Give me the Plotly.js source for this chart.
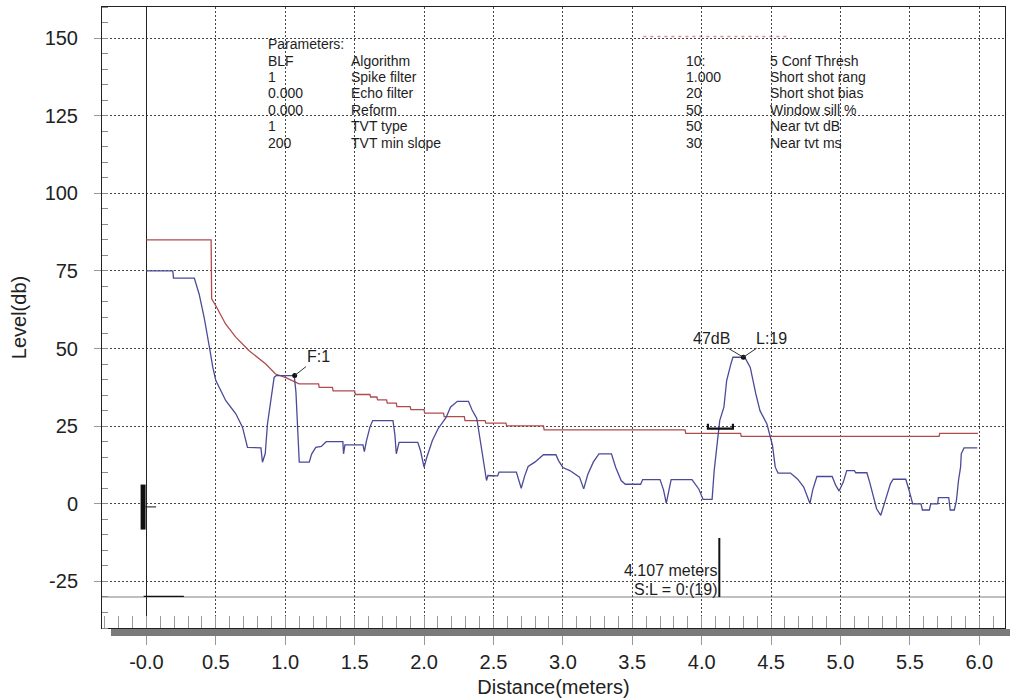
<!DOCTYPE html>
<html>
<head>
<meta charset="utf-8">
<script src="https://cdn.plot.ly/plotly-3.0.1.min.js"></script>
<style>html,body{margin:0;padding:0;background:#fff;}#chart{width:1030px;height:699px;}</style>
</head>
<body>
<div id="chart"></div>
<script>
// ---- Echo profile (blue) ----
const distX = [0,0.19,0.195,0.345,0.38,0.416,0.454,0.478,0.50,0.572,0.644,0.692,0.728,0.825,0.836,0.856,0.872,0.897,0.92,0.935,1.065,1.077,1.101,1.173,1.19,1.22,1.26,1.295,1.415,1.42,1.43,1.56,1.57,1.585,1.61,1.63,1.776,1.79,1.80,1.82,1.955,1.975,2.0,2.02,2.06,2.10,2.16,2.19,2.24,2.32,2.345,2.38,2.40,2.42,2.44,2.45,2.46,2.53,2.54,2.665,2.70,2.725,2.75,2.80,2.86,2.95,2.968,3.0,3.05,3.12,3.15,3.18,3.22,3.26,3.35,3.38,3.42,3.45,3.56,3.575,3.70,3.725,3.745,3.765,3.78,3.93,3.96,3.98,4.01,4.075,4.09,4.11,4.13,4.16,4.18,4.21,4.225,4.31,4.35,4.39,4.42,4.47,4.51,4.53,4.55,4.64,4.69,4.735,4.765,4.78,4.80,4.83,4.94,4.965,4.99,5.02,5.045,5.10,5.11,5.19,5.21,5.235,5.26,5.29,5.31,5.335,5.36,5.38,5.47,5.49,5.51,5.52,5.58,5.59,5.64,5.65,5.70,5.705,5.78,5.79,5.82,5.835,5.85,5.865,5.87,5.89,5.985];
const levelY = [75,75,72.7,72.7,67.5,60,50.4,44,39.7,33.2,29,24.7,18.2,18,13.4,16.2,25.7,33.2,40.7,41.3,41.3,36,13.4,13.4,16,18.2,18.5,20,20,16.1,19,19,16.8,20.3,24.7,26.8,26.8,22.2,16.1,19.8,19.8,17,11.8,15,20.4,24.1,27.9,31.1,33,33,30.3,27.5,21.4,15,9.1,7.5,9.1,9,10.2,10.2,5.0,9,12,13.5,15.8,15.8,14,11.7,10.7,8.6,4.8,9.5,13.5,16.1,16.1,11.8,7.5,6.3,6.3,7.8,7.8,4.5,0.2,4.5,7.8,7.8,6,4.7,1.4,1.4,10.7,18.8,26.8,31.1,39.7,45,47.2,47.2,43.9,35.4,30,25.7,18.8,11.8,9.9,9.9,8,5.4,1.5,0.1,4.5,8.8,8.8,6,4.1,7,10.7,10.7,10,10,7,3,-1.6,-3.7,-1,3,6.5,7.9,7.9,5,1.5,0,0,-2,-2,0,0,2,2,-2,-2,1,7.5,11.8,16.1,18,18];

// ---- TVT curve (red) ----
const tvtX = [0,0.466,0.47,0.50,0.57,0.645,0.74,0.86,0.93,1.0,1.1,1.24,1.245,1.34,1.345,1.5,1.505,1.61,1.615,1.66,1.665,1.73,1.735,1.80,1.805,1.90,1.905,2.0,2.005,2.14,2.145,2.29,2.295,2.44,2.445,2.59,2.595,2.86,2.865,3.88,3.885,4.28,4.285,5.71,5.715,5.99];
const tvtY = [85,85,66,63.8,57.9,53.6,49.3,45,41.8,40.7,38.6,38.6,37.5,37.5,36.4,36.4,35.2,35.2,34.4,34.4,33.5,33.5,32.4,32.4,31.3,31.3,30.3,30.3,29.2,29.2,28.1,28.1,26.8,26.8,26,26,25.1,25.1,23.8,23.8,22.7,22.7,21.7,21.7,22.7,22.7];

// ---- Echo markers ----
const echoX = [1.068, 4.30];
const echoY = [41.3, 47.2];
const echoLabels = ['F:1', '47dB', 'L:19'];
const windowX = [4.045, 4.045, 4.225, 4.225];
const windowY = [25.8, 24.2, 24.2, 25.8];
const cursorX = [4.127, 4.127];
const cursorY = [-11, -30];
const cursorText = ['4.107 meters', 'S:L = 0:(19)'];
const zeroBarX = [-0.024, -0.024];
const zeroBarY = [6.2, -8.3];
const zeroTickX = [-0.006, 0.07];
const zeroTickY = [-1, -1];
const baseMarkX = [-0.02, 0.27];
const baseMarkY = [-29.8, -29.8];
const baseLevel = -30;
const faintX = [3.58, 4.62];
const faintY = [150.5, 150.5];

// ---- Axes ----
const xTickVals = [0,0.5,1,1.5,2,2.5,3,3.5,4,4.5,5,5.5,6];
const xTickText = ['-0.0','0.5','1.0','1.5','2.0','2.5','3.0','3.5','4.0','4.5','5.0','5.5','6.0'];
const yTickVals = [-25,0,25,50,75,100,125,150];
const yTickText = ['-25','0','25','50','75','100','125','150'];

// ---- Parameter block ----
const paramHeader = 'Parameters:';
const paramValues = ['BLF','1','0.000','0.000','1','200'];
const paramNames = ['Algorithm','Spike filter','Echo filter','Reform','TVT type','TVT min slope'];
const rightValues = ['10:','1.000','20','50','50','30'];
const rightNames = ['5 Conf Thresh','Short shot rang','Short shot bias','Window sill %','Near tvt dB','Near tvt ms'];

const FONT = 'Liberation Sans, Arial, sans-serif';
const L = 102, T = 7, W = 903, H = 621;
const px = v => (v - L) / W;
const py = v => (T + H - v) / H;

const traces = [
  {x: faintX, y: faintY, mode: 'lines', line: {color: 'rgba(180,40,50,0.5)', width: 1.5, dash: '3px,4px'}, hoverinfo: 'skip'},
  {x: tvtX, y: tvtY, mode: 'lines', line: {color: '#b24a4c', width: 1.3}, name: 'TVT'},
  {x: distX, y: levelY, mode: 'lines', line: {color: '#4a4a98', width: 1.3}, name: 'Echo'},
  {x: echoX, y: echoY, mode: 'markers', marker: {color: '#111', size: 5}, hoverinfo: 'skip'},
  {x: windowX, y: windowY, mode: 'lines', line: {color: '#111', width: 2.2}, hoverinfo: 'skip'},
  {x: cursorX, y: cursorY, mode: 'lines', line: {color: '#111', width: 2}, hoverinfo: 'skip'},
  {x: zeroBarX, y: zeroBarY, mode: 'lines', line: {color: '#111', width: 5}, hoverinfo: 'skip'},
  {x: zeroTickX, y: zeroTickY, mode: 'lines', line: {color: '#111', width: 1}, hoverinfo: 'skip'},
  {x: baseMarkX, y: baseMarkY, mode: 'lines', line: {color: '#111', width: 1.2}, hoverinfo: 'skip'}
];

const annotations = [];
const tf = {family: FONT, size: 14, color: '#1e1e1e'};
annotations.push({xref: 'paper', yref: 'paper', x: px(267), y: py(44), xanchor: 'left', yanchor: 'middle', text: paramHeader, showarrow: false, font: tf, borderpad: 0});
const rowsY = [60.5, 77, 93.5, 110, 126.5, 143];
paramValues.forEach((v, i) => {
  annotations.push({xref: 'paper', yref: 'paper', x: px(267), y: py(rowsY[i]), xanchor: 'left', yanchor: 'middle', text: v, showarrow: false, font: tf, borderpad: 0});
  annotations.push({xref: 'paper', yref: 'paper', x: px(350), y: py(rowsY[i]), xanchor: 'left', yanchor: 'middle', text: paramNames[i], showarrow: false, font: tf, borderpad: 0});
  annotations.push({xref: 'paper', yref: 'paper', x: px(685), y: py(rowsY[i]), xanchor: 'left', yanchor: 'middle', text: rightValues[i], showarrow: false, font: tf, borderpad: 0});
  annotations.push({xref: 'paper', yref: 'paper', x: px(769), y: py(rowsY[i]), xanchor: 'left', yanchor: 'middle', text: rightNames[i], showarrow: false, font: tf, borderpad: 0});
});
const af = {family: FONT, size: 16, color: '#1e1e1e'};
annotations.push({x: echoX[0], y: echoY[0], text: echoLabels[0], showarrow: true, arrowhead: 0, arrowwidth: 1, arrowcolor: '#333', ax: 24, ay: -19, font: af});
annotations.push({x: echoX[1], y: echoY[1], text: echoLabels[1], showarrow: true, arrowhead: 0, arrowwidth: 1, arrowcolor: '#333', ax: -32, ay: -19, font: af});
annotations.push({x: echoX[1], y: echoY[1], text: echoLabels[2], showarrow: true, arrowhead: 0, arrowwidth: 1, arrowcolor: '#333', ax: 28, ay: -19, font: af});
annotations.push({xref: 'paper', yref: 'paper', x: px(718), y: py(570), xanchor: 'right', yanchor: 'middle', text: cursorText[0], showarrow: false, font: af, borderpad: 0});
annotations.push({xref: 'paper', yref: 'paper', x: px(718), y: py(589), xanchor: 'right', yanchor: 'middle', text: cursorText[1], showarrow: false, font: af, borderpad: 0});

const layout = {
  width: 1030, height: 699,
  margin: {l: L, r: 1030 - L - W, t: T, b: 699 - T - H, pad: 0},
  paper_bgcolor: '#ffffff', plot_bgcolor: '#ffffff',
  showlegend: false,
  font: {family: FONT, color: '#222'},
  xaxis: {
    range: [-0.32, 6.185], tickmode: 'array', tickvals: xTickVals, ticktext: xTickText,
    showgrid: true, gridcolor: '#444', griddash: '2px,2px', gridwidth: 1,
    zeroline: true, zerolinecolor: '#222', zerolinewidth: 1,
    showline: true, mirror: true, linecolor: '#222', linewidth: 1,
    ticks: 'outside', ticklen: 16, tickcolor: '#999', tickwidth: 1,
    tickfont: {family: FONT, size: 20, color: '#222'},
    minor: {tickmode: 'linear', tick0: 0, dtick: 0.1, ticks: 'inside', ticklen: 12, tickcolor: '#9a9a9a', tickwidth: 1, showgrid: false},
    title: {text: 'Distance(meters)', font: {family: FONT, size: 20, color: '#222'}, standoff: 7}
  },
  yaxis: {
    range: [-40, 160], tickmode: 'array', tickvals: yTickVals, ticktext: yTickText,
    showgrid: true, gridcolor: '#444', griddash: '2px,2px', gridwidth: 1,
    zeroline: false,
    showline: true, mirror: true, linecolor: '#222', linewidth: 1,
    ticks: 'outside', ticklen: 7, tickcolor: '#999', tickwidth: 1,
    ticklabelstandoff: 12,
    tickfont: {family: FONT, size: 20, color: '#222'},
    minor: {tickmode: 'linear', tick0: 0, dtick: 5, ticks: 'inside', ticklen: 6, tickcolor: '#8a8a8a', tickwidth: 1, showgrid: false},
    title: {text: 'Level(db)', font: {family: FONT, size: 20, color: '#222'}, standoff: 12}
  },
  shapes: [
    {type: 'line', xref: 'paper', x0: 0, x1: 1, yref: 'y', y0: baseLevel, y1: baseLevel, line: {color: '#aaaaaa', width: 1.5}, layer: 'below'},
    {type: 'rect', xref: 'paper', yref: 'paper', x0: px(111), x1: px(1010), y0: py(636), y1: py(629), fillcolor: '#7a7a7a', line: {width: 0}}
  ],
  annotations: annotations
};

Plotly.newPlot('chart', traces, layout, {displayModeBar: false, staticPlot: true});
</script>
</body>
</html>
